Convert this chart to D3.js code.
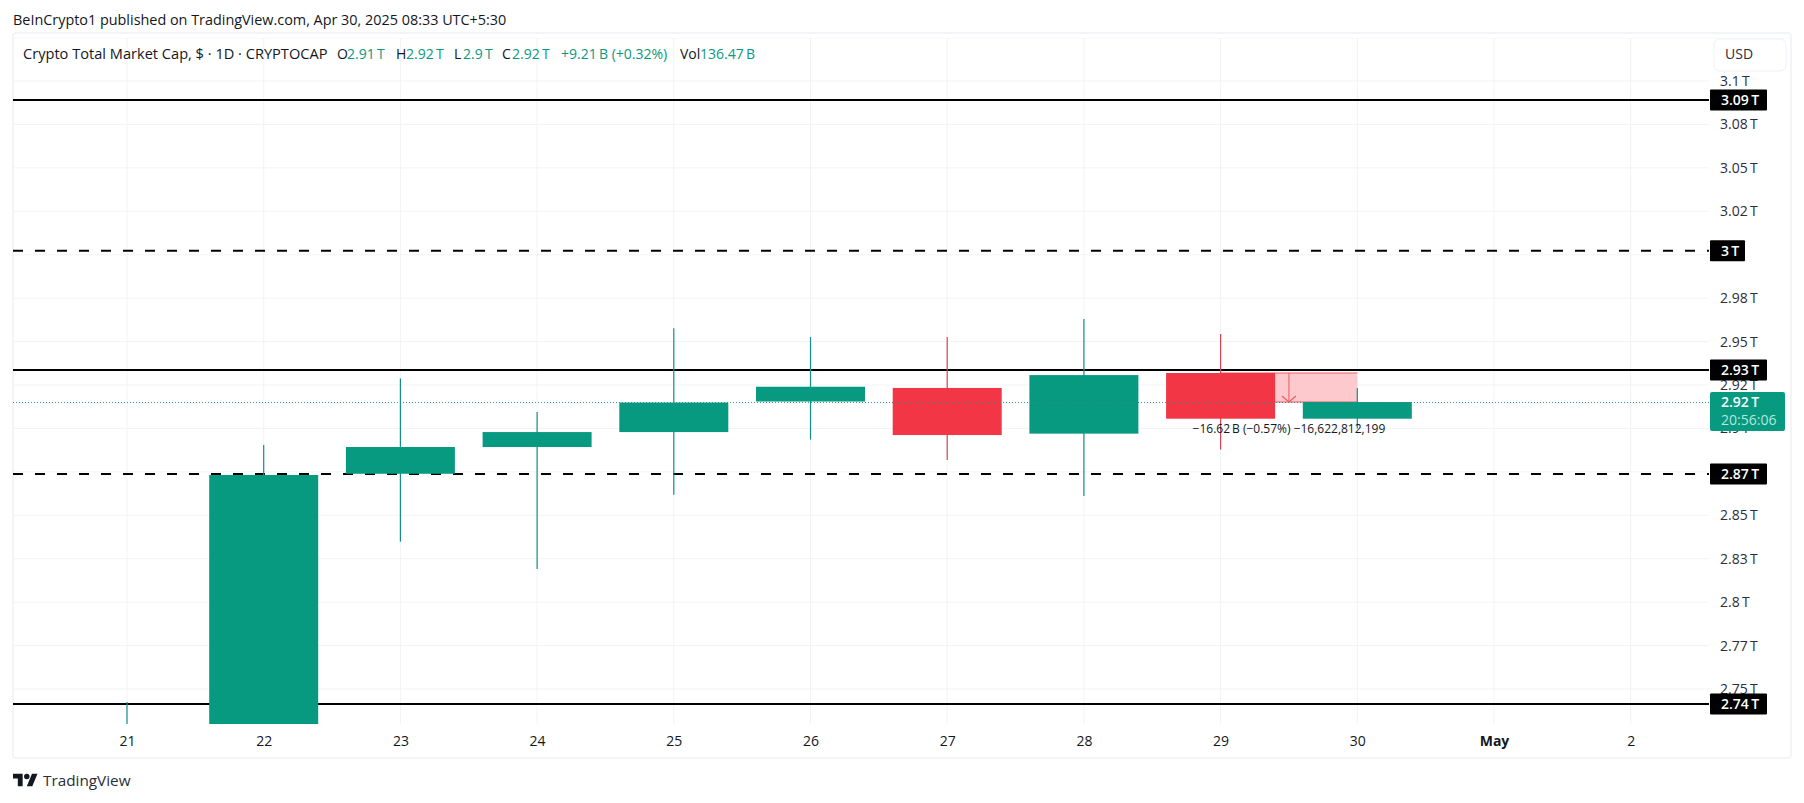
<!DOCTYPE html>
<html>
<head>
<meta charset="utf-8">
<script src="https://cdn.jsdelivr.net/npm/d3@7"></script>
<style>
  html, body { margin: 0; padding: 0; background: #fff; }
  svg { display: block; }
  text { font-family: "Open Sans", "Noto Sans", sans-serif; }
</style>
</head>
<body>
<svg id="chart" width="1804" height="803"></svg>
<script>
// candles, values in trillions
const days = ["21", "22", "23", "24", "25", "26", "27", "28", "29", "30", "May", "2"];
const opens = [2.66, 2.70, 2.8739, 2.8893, 2.8979, 2.9155, 2.9233, 2.8970, 2.9319, 2.9056];
const highs = [2.7425, 2.8904, 2.9288, 2.9094, 2.9577, 2.9526, 2.9526, 2.963, 2.9543, 2.9233];
const lows = [2.62, 2.69, 2.8348, 2.8191, 2.8618, 2.8936, 2.8818, 2.8611, 2.8878, 2.9];
const closes = [2.70, 2.8732, 2.8893, 2.8979, 2.9149, 2.924, 2.8962, 2.9307, 2.9056, 2.9152];

// the 3 T and 2.87 T ticks sit fully under their level tags, so they get no label of their own
const priceTicks = [3.1, 3.075, 3.05, 3.025, 3.0, 2.975, 2.95, 2.925, 2.9, 2.875, 2.85, 2.825, 2.8, 2.775, 2.75];
const priceTickLabels = ["3.1\u2009T", "3.08\u2009T", "3.05\u2009T", "3.02\u2009T", "", "2.98\u2009T", "2.95\u2009T", "2.92\u2009T", "2.9\u2009T", "", "2.85\u2009T", "2.83\u2009T", "2.8\u2009T", "2.77\u2009T", "2.75\u2009T"];

const levels = [3.089, 3.0023, 2.9336, 2.8737, 2.7413];
const levelLabels = ["3.09\u2009T", "3\u2009T", "2.93\u2009T", "2.87\u2009T", "2.74\u2009T"];
const levelDashed = [false, true, false, true, false];
const levelTagWidths = [57, 35, 57, 57, 57];

const lastPrice = 2.9149;
const measureFrom = 2.9319;
const measureTo = 2.9152;
const measureText = "\u221216.62\u2009B (\u22120.57%) \u221216,622,812,199";

const legendTitle = "Crypto Total Market Cap, $ \u00b7 1D \u00b7 CRYPTOCAP";
const legendLabels = ["O", "H", "L", "C", "Vol"];
const legendValues = ["2.91\u2009T", "2.92\u2009T", "2.9\u2009T", "2.92\u2009T", "136.47\u2009B"];
const legendLabelX = [337, 396, 454, 502, 680];
const legendValueX = [347, 406, 463, 512, 700];

const up = "#089981", down = "#f23645", wickUp = "#12908a", wickDown = "#d9434f";
const textCol = "#131722", gridCol = "#f2f3f6", frameCol = "#f0f1f5";

const frameLeft = 13, plotRight = 1709, frameRight = 1791, plotTop = 38, plotBottom = 724, frameBottom = 758;
const bodyW = 109;

const svg = d3.select("#chart");
const y = d3.scaleLinear().domain([2.75, 3.1]).range([689, 81]);
const x = d3.scalePoint().domain(days).range([127, 1630.7]);

// frame
svg.append("rect").attr("x", frameLeft).attr("y", 33).attr("width", frameRight - frameLeft).attr("height", frameBottom - 33)
  .attr("rx", 3).attr("fill", "#fff").attr("stroke", frameCol).attr("stroke-width", 1.5);
svg.append("line").attr("x1", frameLeft).attr("x2", frameRight).attr("y1", plotTop).attr("y2", plotTop).attr("stroke", "#f7f8fa");

// grid
const grid = svg.append("g");
grid.selectAll("line.h").data(priceTicks).join("line").attr("class", "h")
  .attr("x1", frameLeft).attr("x2", plotRight).attr("y1", d => y(d)).attr("y2", d => y(d))
  .attr("stroke", gridCol);
grid.selectAll("line.v").data(days).join("line").attr("class", "v")
  .attr("x1", d => x(d)).attr("x2", d => x(d)).attr("y1", plotTop).attr("y2", plotBottom)
  .attr("stroke", gridCol);

svg.append("clipPath").attr("id", "plot").append("rect")
  .attr("x", frameLeft).attr("y", plotTop).attr("width", plotRight - frameLeft).attr("height", plotBottom - plotTop);
const plot = svg.append("g").attr("clip-path", "url(#plot)");

// horizontal levels sit under the candles
plot.selectAll("line.level").data(levels).join("line").attr("class", "level")
  .attr("x1", frameLeft).attr("x2", plotRight).attr("y1", d => y(d)).attr("y2", d => y(d))
  .attr("stroke", "#000").attr("stroke-width", 2)
  .attr("stroke-dasharray", (d, i) => levelDashed[i] ? "10 12" : null);

// measure box between the 29 and 30 candles
const mx0 = x("29"), mx1 = x("30"), mMid = (mx0 + mx1) / 2;
plot.append("rect").attr("x", mx0).attr("width", mx1 - mx0)
  .attr("y", y(measureFrom)).attr("height", y(measureTo) - y(measureFrom))
  .attr("fill", "#fdc9cc");
plot.selectAll("line.mb").data([measureFrom, measureTo]).join("line").attr("class", "mb")
  .attr("x1", mx0).attr("x2", mx1).attr("y1", d => y(d)).attr("y2", d => y(d))
  .attr("stroke", "#ee5a66");
plot.append("line").attr("x1", mMid).attr("x2", mMid).attr("y1", y(measureFrom)).attr("y2", y(measureTo))
  .attr("stroke", "#ee5a66");
plot.append("path")
  .attr("d", `M${mMid - 7},${y(measureTo) - 6}L${mMid},${y(measureTo)}L${mMid + 7},${y(measureTo) - 6}`)
  .attr("fill", "none").attr("stroke", "#ee5a66").attr("stroke-width", 1.2);

// candles
const idx = d3.range(opens.length);
plot.selectAll("line.wick").data(idx).join("line").attr("class", "wick")
  .attr("x1", i => x(days[i])).attr("x2", i => x(days[i]))
  .attr("y1", i => y(highs[i])).attr("y2", i => y(lows[i]))
  .attr("stroke", i => closes[i] >= opens[i] ? wickUp : wickDown).attr("stroke-width", 1.2);
plot.selectAll("rect.body").data(idx).join("rect").attr("class", "body")
  .attr("x", i => x(days[i]) - bodyW / 2).attr("width", bodyW)
  .attr("y", i => y(Math.max(opens[i], closes[i])))
  .attr("height", i => Math.abs(y(opens[i]) - y(closes[i])))
  .attr("fill", i => closes[i] >= opens[i] ? up : down);

// last price dotted line
plot.append("line").attr("x1", frameLeft).attr("x2", plotRight).attr("y1", y(lastPrice)).attr("y2", y(lastPrice))
  .attr("stroke", "#2f8f88").attr("stroke-width", 1).attr("stroke-dasharray", "1 2");

svg.append("text").attr("x", mMid).attr("y", y(measureTo) + 27).attr("dy", "0.35em")
  .attr("text-anchor", "middle").attr("font-size", 12).attr("fill", textCol).text(measureText);

// price axis
const yAxis = d3.axisRight(y).tickValues(priceTicks).tickSize(0).tickPadding(0)
  .tickFormat((d, i) => priceTickLabels[i]);
svg.append("g").attr("transform", "translate(1720,0)").call(yAxis)
  .call(g => g.select(".domain").remove())
  .call(g => g.selectAll("text").attr("font-size", 14).attr("fill", "#2a2e39")
    .attr("font-family", '"Open Sans", sans-serif'));

// time axis
const xAxis = d3.axisBottom(x).tickSize(0).tickPadding(0);
svg.append("g").attr("transform", "translate(0,736)").call(xAxis)
  .call(g => g.select(".domain").remove())
  .call(g => g.selectAll("text").attr("font-size", 14).attr("fill", textCol)
    .attr("font-family", '"Open Sans", sans-serif')
    .attr("font-weight", d => d === "May" ? 700 : 400));

// level tags on the price axis
const tags = svg.append("g").selectAll("g").data(levels).join("g")
  .attr("transform", d => `translate(1710,${y(d)})`);
tags.append("rect").attr("y", -10.5).attr("height", 21).attr("rx", 1)
  .attr("width", (d, i) => levelTagWidths[i]).attr("fill", "#000");
tags.append("text").attr("x", 11).attr("dy", "0.35em").attr("font-size", 14).attr("font-weight", 600)
  .attr("fill", "#fff").text((d, i) => levelLabels[i]);

// last price tag
const lastTag = svg.append("g").attr("transform", `translate(1710,${y(lastPrice)})`);
lastTag.append("rect").attr("y", -10.5).attr("width", 75).attr("height", 39).attr("rx", 2).attr("fill", up);
lastTag.append("text").attr("x", 11).attr("dy", "0.35em").attr("font-size", 14).attr("font-weight", 600)
  .attr("fill", "#fff").text("2.92\u2009T");
lastTag.append("text").attr("x", 11).attr("y", 18).attr("dy", "0.35em").attr("font-size", 14)
  .attr("fill", "#b5e6da").text("20:56:06");

// USD button
svg.append("rect").attr("x", 1714).attr("y", 39).attr("width", 72).attr("height", 32).attr("rx", 6)
  .attr("fill", "#fff").attr("stroke", "#f0f1f5");
svg.append("text").attr("x", 1725).attr("y", 54.5).attr("dy", "0.35em").attr("font-size", 14)
  .attr("fill", "#2a2e39").text("USD");

// header and legend
svg.append("text").attr("x", 13).attr("y", 20).attr("dy", "0.35em").attr("font-size", 14.4)
  .attr("fill", textCol).text("BeInCrypto1 published on TradingView.com, Apr 30, 2025 08:33 UTC+5:30");
svg.append("text").attr("x", 23).attr("y", 54).attr("dy", "0.35em").attr("font-size", 14.6)
  .attr("fill", textCol).text(legendTitle);
const legend = svg.append("g");
legend.selectAll("text.l").data(legendLabels).join("text").attr("class", "l")
  .attr("x", (d, i) => legendLabelX[i]).attr("y", 54).attr("dy", "0.35em").attr("font-size", 14)
  .attr("fill", textCol).text(d => d);
legend.selectAll("text.v").data(legendValues).join("text").attr("class", "v")
  .attr("x", (d, i) => legendValueX[i]).attr("y", 54).attr("dy", "0.35em").attr("font-size", 14)
  .attr("fill", up).text(d => d);
legend.append("text").attr("x", 561).attr("y", 54).attr("dy", "0.35em").attr("font-size", 14)
  .attr("fill", up).text("+9.21\u2009B (+0.32%)");

// TradingView logo
const logo = svg.append("g").attr("transform", "translate(13,771) scale(0.69)").attr("fill", "#131722");
logo.append("path").attr("d", "M14 22H7V11H0V4h14v18zM28 22h-8l7.5-18h8L28 22z");
logo.append("circle").attr("cx", 20).attr("cy", 8).attr("r", 4);
svg.append("text").attr("x", 43).attr("y", 781).attr("dy", "0.35em").attr("font-size", 15.3)
  .attr("fill", "#2a2e39").text("TradingView");
</script>
</body>
</html>
